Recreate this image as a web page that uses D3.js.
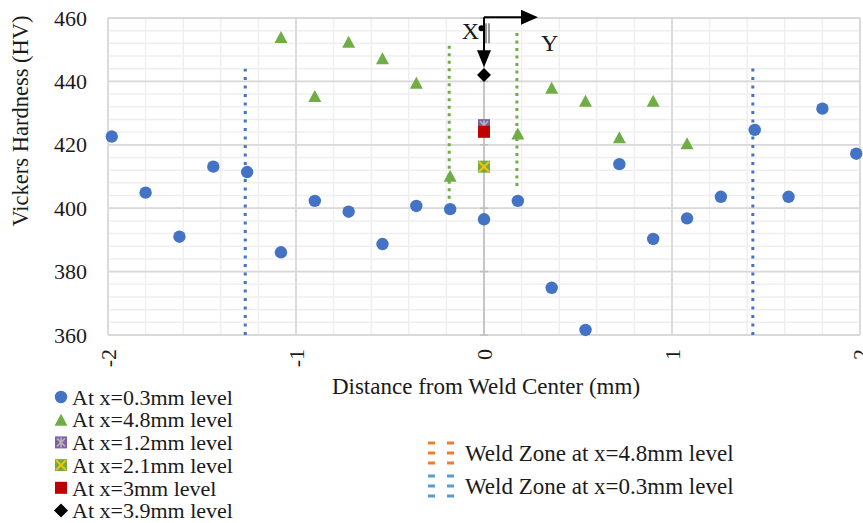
<!DOCTYPE html>
<html lang="en">
<meta charset="utf-8">
<title>Vickers Hardness across the Weld</title>
<style>
  body { margin: 0; background: #fff; }
  svg text { font-family: "Liberation Serif", "Times New Roman", serif; fill: #1a1a1a; }
</style>
<body>
<div id="chart"></div>
<script src="https://cdn.jsdelivr.net/npm/d3@7"></script>
<script>
// Axis ticks
var xTicks = [-2, -1, 0, 1, 2];
var yTicks = [360, 380, 400, 420, 440, 460];

// Hardness profile at x=0.3mm level (distance mm / HV)
var dist03 = [-1.98, -1.8, -1.62, -1.44, -1.26, -1.08, -0.9, -0.72, -0.54, -0.36, -0.18, 0,
              0.18, 0.36, 0.54, 0.72, 0.9, 1.08, 1.26, 1.44, 1.62, 1.8, 1.98];
var hv03 = [422.6, 404.9, 391.0, 413.1, 411.4, 386.1, 402.3, 398.9, 388.7, 400.7, 399.7, 396.5,
            402.3, 374.9, 361.6, 413.9, 390.3, 396.8, 403.6, 424.7, 403.6, 431.4, 417.2];

// Hardness profile at x=4.8mm level
var dist48 = [-1.08, -0.9, -0.72, -0.54, -0.36, -0.18, 0.18, 0.36, 0.54, 0.72, 0.9, 1.08];
var hv48 = [454.0, 435.4, 452.5, 447.3, 439.6, 410.2, 423.6, 438.0, 433.9, 422.4, 433.9, 420.5];

// Single centre readings
var hv12 = [426.2];
var hv21 = [413.1];
var hv30 = [424.1];
var hv39 = [442.0];

// Weld zone boundaries (x position, lower HV, upper HV)
var weldX48 = [-0.185, 0.175];
var weldLow48 = [403, 407];
var weldHigh48 = [452, 456];
var weldX03 = [-1.27, 1.43];
var weldLow03 = [360, 360];
var weldHigh03 = [444, 444.5];

var W = 863, H = 523;
var svg = d3.select("#chart").append("svg").attr("width", W).attr("height", H);

var x = d3.scaleLinear().domain([-2, 2]).range([108, 860]);
var y = d3.scaleLinear().domain([360, 460]).range([335, 18]);

// minor grid
var g = svg.append("g");
g.selectAll(".mx").data(d3.range(-2, 2.001, 0.2)).join("line")
  .attr("x1", d => x(d)).attr("x2", d => x(d)).attr("y1", y(360)).attr("y2", y(460))
  .attr("stroke", "#efefef").attr("stroke-width", 1.5);
g.selectAll(".my").data(d3.range(360, 460.001, 4)).join("line")
  .attr("x1", x(-2)).attr("x2", x(2)).attr("y1", d => y(d)).attr("y2", d => y(d))
  .attr("stroke", "#efefef").attr("stroke-width", 1.5);

// major grid
svg.append("g").selectAll("line").data(xTicks).join("line")
  .attr("x1", d => x(d)).attr("x2", d => x(d)).attr("y1", y(360)).attr("y2", y(460))
  .attr("stroke", "#d9d9d9").attr("stroke-width", 1.8);
svg.append("g").selectAll("line").data(yTicks).join("line")
  .attr("x1", x(-2)).attr("x2", x(2)).attr("y1", d => y(d)).attr("y2", d => y(d))
  .attr("stroke", "#d9d9d9").attr("stroke-width", 1.8);

// vertical axis crossing at 0
var yAxis = d3.axisLeft(y).tickValues(yTicks).tickSize(0).tickFormat(d => String(d));
svg.append("line").attr("x1", x(0)).attr("x2", x(0)).attr("y1", y(360)).attr("y2", y(460))
  .attr("stroke", "#bfbfbf").attr("stroke-width", 1.5);
svg.append("g").selectAll("line").data(yTicks).join("line")
  .attr("x1", x(0) - 4).attr("x2", x(0) + 4).attr("y1", d => y(d)).attr("y2", d => y(d))
  .attr("stroke", "#bfbfbf").attr("stroke-width", 1.5);

// y tick labels on the left
var ya = svg.append("g").attr("transform", "translate(" + (x(-2) - 21) + ",0)").call(yAxis);
ya.select(".domain").remove();
ya.selectAll("text").attr("x", 0).style("font-size", "22px")
  .style("font-family", "'Liberation Serif', serif").attr("fill", "#1a1a1a");

// x tick labels rotated
svg.append("g").selectAll("text").data(xTicks).join("text")
  .attr("transform", d => "translate(" + x(d) + ",349) rotate(-90)")
  .attr("text-anchor", "end").attr("dy", "0.35em")
  .style("font-size", "22px").text(d => String(d));

// axis titles
svg.append("text").attr("x", x(0) + 2).attr("y", 386).attr("dy", "0.35em")
  .attr("text-anchor", "middle").style("font-size", "23px")
  .text("Distance from Weld Center (mm)");
svg.append("text").attr("transform", "translate(20,121) rotate(-90)")
  .attr("dy", "0.35em").attr("text-anchor", "middle").style("font-size", "22.5px")
  .text("Vickers Hardness (HV)");

// weld zone lines
svg.append("g").selectAll("line").data(weldX03).join("line")
  .attr("x1", d => x(d)).attr("x2", d => x(d))
  .attr("y1", (d, i) => y(weldLow03[i])).attr("y2", (d, i) => y(weldHigh03[i]))
  .attr("stroke", "#4472c4").attr("stroke-width", 3).attr("stroke-dasharray", "3,5.5");
svg.append("g").selectAll("line").data(weldX48).join("line")
  .attr("x1", d => x(d)).attr("x2", d => x(d))
  .attr("y1", (d, i) => y(weldLow48[i])).attr("y2", (d, i) => y(weldHigh48[i]))
  .attr("stroke", "#70ad47").attr("stroke-width", 3).attr("stroke-dasharray", "3,4.5");

// marker drawers
function circleM(sel) {
  sel.append("circle").attr("r", 6.2).attr("fill", "#4472c4");
}
function triM(sel) {
  sel.append("path").attr("d", "M0,-6L6.5,6L-6.5,6Z").attr("fill", "#70ad47");
}
function starM(sel) {
  sel.append("rect").attr("x", -6).attr("y", -6).attr("width", 12).attr("height", 12).attr("fill", "#7f5fa8");
  sel.append("path").attr("d", "M-4,-4L4,4M4,-4L-4,4M0,-5V5").attr("stroke", "#b4b4b4").attr("stroke-width", 1.6);
}
function crossM(sel) {
  sel.append("rect").attr("x", -6).attr("y", -6).attr("width", 12).attr("height", 12).attr("fill", "#70ad47");
  sel.append("path").attr("d", "M-5,-5L5,5M5,-5L-5,5").attr("stroke", "#ffc000").attr("stroke-width", 2);
}
function redM(sel) {
  sel.append("rect").attr("x", -6).attr("y", -6).attr("width", 12).attr("height", 12).attr("fill", "#c00000");
}
function diaM(sel) {
  sel.append("path").attr("d", "M0,-7L7,0L0,7L-7,0Z").attr("fill", "#000");
}

function plot(xs, ys, draw) {
  svg.append("g").selectAll("g").data(ys).join("g")
    .attr("transform", (d, i) => "translate(" + x(xs[i]) + "," + y(d) + ")")
    .each(function () { draw(d3.select(this)); });
}
plot(dist03, hv03, circleM);
plot(dist48, hv48, triM);
plot([0], hv12, starM);
plot([0], hv21, crossM);
plot([0], hv30, redM);
plot([0], hv39, diaM);

// coordinate sketch at the top of the weld center
var ox = x(0), oy = y(460) - 0.7;
var ann = svg.append("g");
ann.append("line").attr("x1", ox).attr("x2", ox + 38).attr("y1", oy).attr("y2", oy)
  .attr("stroke", "#000").attr("stroke-width", 2);
ann.append("path").attr("d", "M" + (ox + 54) + "," + oy + "l-17,-7.5v15Z").attr("fill", "#000");
ann.append("line").attr("x1", ox).attr("x2", ox).attr("y1", oy).attr("y2", oy + 34)
  .attr("stroke", "#000").attr("stroke-width", 2);
ann.append("path").attr("d", "M" + ox + "," + (oy + 50) + "l-7,-17h14Z").attr("fill", "#000");
ann.append("circle").attr("cx", ox - 2.5).attr("cy", oy + 11).attr("r", 3).attr("fill", "#000");
ann.append("path").attr("d", "M" + (ox + 2) + "," + (oy + 6) + "v20M" + (ox + 5) + "," + (oy + 6) + "v20")
  .attr("stroke", "#333").attr("stroke-width", 1);
ann.append("text").attr("x", ox - 5).attr("y", oy + 22).attr("text-anchor", "end")
  .style("font-size", "24px").text("X");
ann.append("text").attr("x", ox + 57).attr("y", oy + 34)
  .style("font-size", "24px").text("Y");

// legend for measurement levels
var legendNames = ["At x=0.3mm level", "At x=4.8mm level", "At x=1.2mm level",
                   "At x=2.1mm level", "At x=3mm level", "At x=3.9mm level"];
var legendDraw = [circleM, triM, starM, crossM, redM, diaM];
legendNames.forEach(function (name, i) {
  var ly = 397 + i * 22.7;
  var m = svg.append("g").attr("transform", "translate(61," + ly + ")");
  legendDraw[i](m);
  svg.append("text").attr("x", 72).attr("y", ly).attr("dy", "0.35em")
    .style("font-size", "22px").text(name);
});

// legend for weld zones
var zoneNames = ["Weld Zone at x=4.8mm level", "Weld Zone at x=0.3mm level"];
var zoneColors = ["#ed7d31", "#5b9bd5"];
zoneNames.forEach(function (name, i) {
  var ly = 453 + i * 33;
  [428, 447].forEach(function (lx) {
    [-10, 0, 10].forEach(function (off) {
      svg.append("rect").attr("x", lx).attr("y", ly + off - 1.5)
        .attr("width", 7).attr("height", 3).attr("fill", zoneColors[i]);
    });
  });
  svg.append("text").attr("x", 465).attr("y", ly).attr("dy", "0.35em")
    .style("font-size", "23px").text(name);
});
</script>
</body>
</html>
